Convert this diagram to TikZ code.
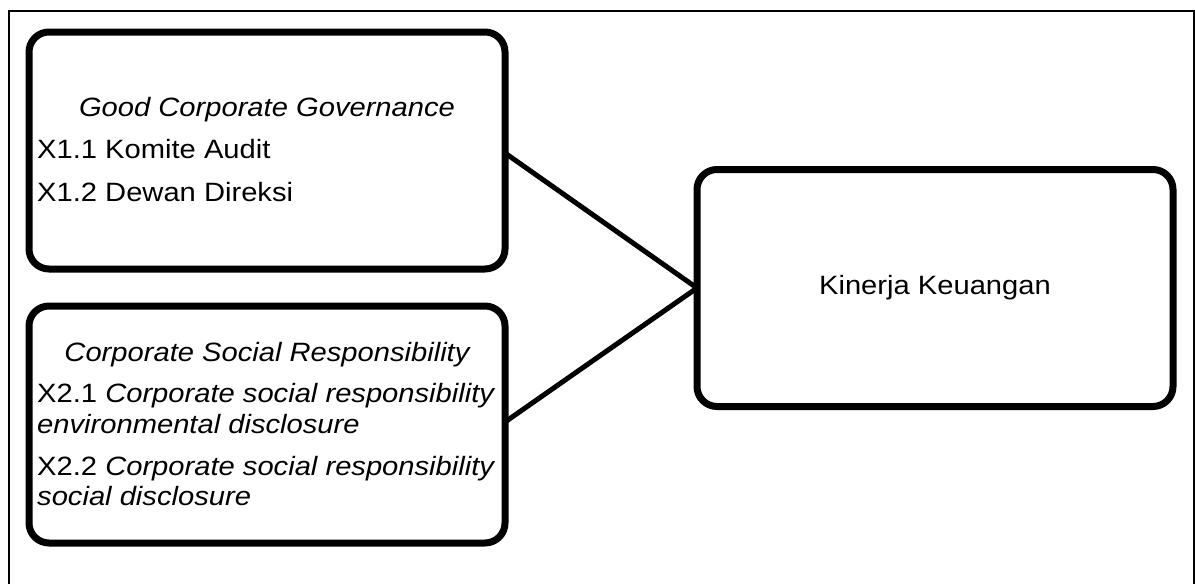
\documentclass[tikz,border=0pt]{standalone}
\usepackage{fontspec}
\setmainfont[FakeStretch=1.1]{Liberation Sans}
\usetikzlibrary{positioning}

\newcommand\boxfont{\fontsize{26.5}{31}\selectfont}
\tikzset{varbox/.style={draw,line width=7pt,rounded corners=20pt,minimum width=476pt,minimum height=237pt,inner sep=0pt,outer sep=0pt},
         vartitle/.style={anchor=base,inner sep=0pt,font=\boxfont\itshape},
         indic/.style={anchor=base west,inner sep=0pt}}

\begin{document}
\begin{tikzpicture}[x=1pt,y=-1pt,font=\boxfont]
  \useasboundingbox (0,0) rectangle (1195,584);
  % frame
  \draw[line width=2pt] (8.5,600) -- (8.5,11) -- (1193.5,11) -- (1193.5,600);

  % variables
  \node[varbox] (gcg) at (267,150.5) {};
  \node[varbox] (csr) at (267,424.5) {};
  \node[varbox] (kk) at (935,288) {Kinerja Keuangan};

  \node[vartitle] (gcgt) at (267,116.7) {Good Corporate Governance};
  \node[indic] (x11) at (37,158.5) {X1.1 Komite Audit};
  \node[indic] (x12) at (37,201.5) {X1.2 Dewan Direksi};

  \node[vartitle] (csrt) at (267,361.7) {Corporate Social Responsibility};
  \node[indic] (x21) at (37,402.7) {X2.1 \textit{Corporate social responsibility}};
  \node[indic] (x21b) at (37,433.3) {\textit{environmental disclosure}};
  \node[indic] (x22) at (37,475) {X2.2 \textit{Corporate social responsibility}};
  \node[indic] (x22b) at (37,505) {\textit{social disclosure}};

  % links
  \draw[line width=5pt] ([yshift=-2.5pt]gcg.east) -- (kk.west);
  \draw[line width=5pt] ([yshift=2.5pt]csr.east) -- (kk.west);
\end{tikzpicture}
\end{document}
